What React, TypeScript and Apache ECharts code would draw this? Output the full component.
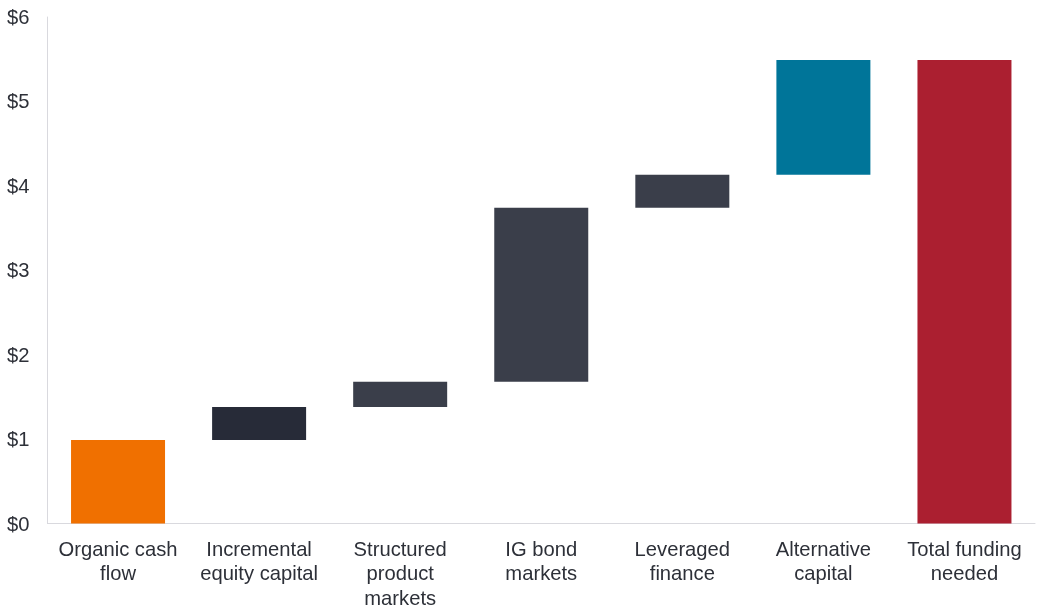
import React, { useEffect, useRef } from "react";
import * as echarts from "echarts";

const categories = [
  "Organic cash\nflow",
  "Incremental\nequity capital",
  "Structured\nproduct\nmarkets",
  "IG bond\nmarkets",
  "Leveraged\nfinance",
  "Alternative\ncapital",
  "Total funding\nneeded",
];
// increments (trillions USD)
const increments = [0.99, 0.39, 0.3, 2.06, 0.39, 1.36];
const barColors = ["#F07000", "#272B38", "#3A3E4A", "#3A3E4A", "#3A3E4A", "#007599", "#AB1F30"];
const yTicks = [0, 1, 2, 3, 4, 5, 6];

export default function App() {
  const ref = useRef<HTMLDivElement>(null);
  useEffect(() => {
    if (!ref.current) return;
    const chart = echarts.init(ref.current, null, { renderer: "svg" });
    const bases: number[] = [];
    let acc = 0;
    increments.forEach((v) => {
      bases.push(+acc.toFixed(2));
      acc += v;
    });
    const total = +acc.toFixed(2);
    bases.push(0);
    const values = [...increments, total];
    const font = "'Liberation Sans', Arial, sans-serif";
    chart.setOption({
      animation: false,
      grid: { left: 47.5, right: 16, top: 17, bottom: 90.5, containLabel: false },
      xAxis: {
        type: "category",
        data: categories,
        axisLine: { show: true, lineStyle: { color: "#D9D9DE", width: 1 } },
        axisTick: { show: false },
        axisLabel: {
          interval: 0,
          color: "#2D3038",
          fontSize: 20.2,
          fontFamily: font,
          lineHeight: 24.5,
          margin: 13,
          align: "center",
        },
      },
      yAxis: {
        type: "value",
        min: 0,
        max: 6,
        interval: 1,
        axisLine: { show: true, lineStyle: { color: "#D9D9DE", width: 1 } },
        axisTick: { show: false },
        splitLine: { show: false },
        axisLabel: {
          color: "#2D3038",
          fontSize: 20.2,
          fontFamily: font,
          margin: 18,
          formatter: (v: number) => (yTicks.includes(v) ? "$" + v : ""),
        },
      },
      series: [
        {
          type: "bar",
          stack: "w",
          data: bases,
          itemStyle: { color: "transparent" },
          barWidth: 94,
          silent: true,
        },
        {
          type: "bar",
          stack: "w",
          barWidth: 94,
          data: values.map((v, i) => ({ value: +v.toFixed(2), itemStyle: { color: barColors[i] } })),
        },
      ],
    });
    return () => chart.dispose();
  }, []);
  return <div ref={ref} style={{ position: "fixed", left: 0, top: 0, width: 1051, height: 614 }} />;
}
